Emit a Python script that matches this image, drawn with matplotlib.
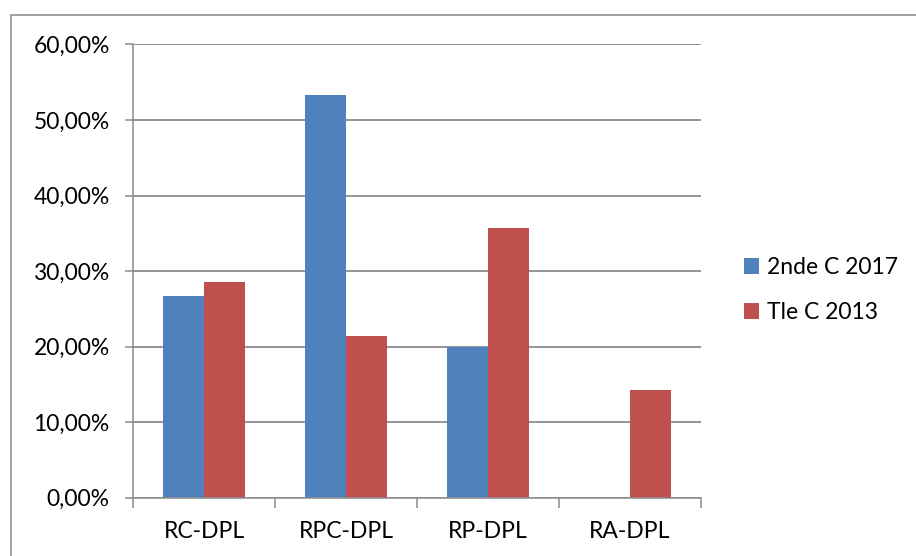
import numpy as np
import matplotlib.pyplot as plt
from matplotlib.patches import Rectangle
from matplotlib.ticker import FixedLocator

# données
categories = ['RC-DPL', 'RPC-DPL', 'RP-DPL', 'RA-DPL']
serie_2017 = [26.67, 53.33, 20.00, 0.0]
serie_2013 = [28.57, 21.43, 35.71, 14.29]
noms_series = ['2nde C 2017', 'Tle C 2013']
y_ticks = [0, 10, 20, 30, 40, 50, 60]

plt.rcParams['font.family'] = ['Lato', 'DejaVu Sans']
taille = 16.5

W, H = 916, 556
fig = plt.figure(figsize=(W / 100, H / 100), dpi=100)
ax = fig.add_axes([133 / W, 1 - 497.5 / H, (701 - 133) / W, (497.5 - 44.5) / H])

gris = '#8c8c8c'
x = np.arange(len(categories))
w = 1 / 3.5
b1 = ax.bar(x - w / 2, serie_2017, w, color='#4f81bd', label=noms_series[0])
b2 = ax.bar(x + w / 2, serie_2013, w, color='#c0504d', label=noms_series[1])

ax.set_xlim(-0.5, len(categories) - 0.5)
ax.set_ylim(0, 60)
ax.set_yticks(y_ticks)
ax.set_yticklabels(['%d,00%%' % v for v in y_ticks], fontsize=taille, color='black')
ax.set_xticks(x)
ax.set_xticklabels(categories, fontsize=taille, color='black')
ax.xaxis.set_minor_locator(FixedLocator(np.arange(len(categories) + 1) - 0.5))

ax.tick_params(axis='x', which='major', length=0, pad=17)
ax.tick_params(axis='x', which='minor', length=7.2, width=1.1, color=gris)
ax.tick_params(axis='y', length=5.8, width=1.1, color=gris, pad=11)

ax.set_axisbelow(True)
ax.yaxis.grid(True, color=gris, linewidth=1.3)
for s in ['top', 'right']:
    ax.spines[s].set_visible(False)
for s in ['left', 'bottom']:
    ax.spines[s].set_color(gris)
    ax.spines[s].set_linewidth(1.1)

ax.legend(loc='center left', bbox_to_anchor=(744 / W, 1 - 290 / H),
          bbox_transform=fig.transFigure, frameon=False, fontsize=taille,
          handlelength=0.65, handleheight=0.65, handletextpad=0.35,
          labelspacing=1.05, borderpad=0, borderaxespad=0)

# cadre du graphique
fig.patches.append(Rectangle((11 / W, -0.05), 1.1, 1 - 15 / H + 0.05,
                             transform=fig.transFigure, fill=False,
                             edgecolor='#999999', linewidth=1.3))

fig.savefig('out.png', dpi=100)
